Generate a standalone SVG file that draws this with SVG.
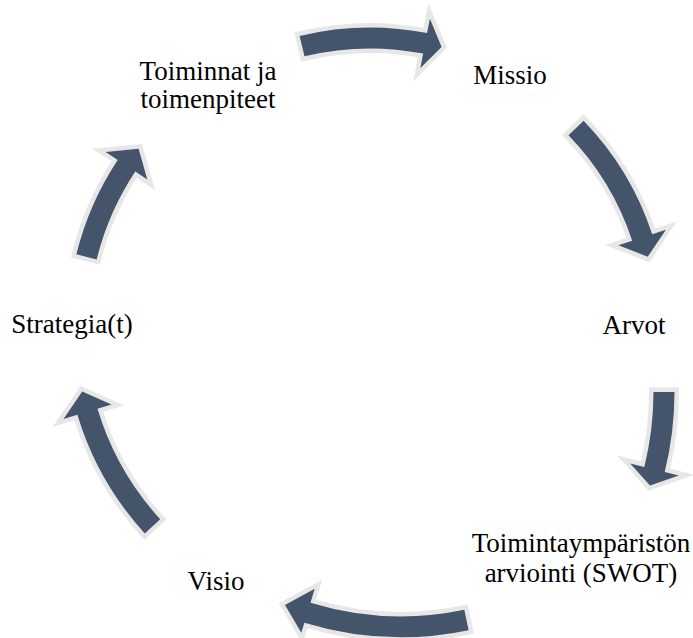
<svg xmlns="http://www.w3.org/2000/svg" width="693" height="638" viewBox="0 0 693 638">
  <style>
    .arrow { fill: #44546A; stroke: #E7E7E7; stroke-width: 9; stroke-linejoin: miter; stroke-miterlimit: 10; paint-order: stroke; }
    .label { font-family: 'Liberation Serif', 'Times New Roman', serif; font-size: 27px; fill: #000000; text-anchor: middle; }
  </style>
  <rect width="693" height="638" fill="#FFFFFF"/>

  <!-- curved block arrows between the steps of the cycle -->
  <g id="connectors">
    <path class="arrow" d="M 299.6,35.9 A 299.5,299.5 0 0 1 427.1,33.0 L 429.9,18.8 L 441.6,47.0 L 420.4,67.9 L 423.1,53.6 A 278.5,278.5 0 0 0 304.5,56.3 Z"/>
    <path class="arrow" d="M 583.6,120.7 A 297,297 0 0 1 652.2,234.2 L 665.9,229.7 L 647.7,256.7 L 618.4,245.3 L 632.2,240.8 A 276,276 0 0 0 568.5,135.3 Z"/>
    <path class="arrow" d="M 674.5,392 A 330.5,330.5 0 0 1 664.7,471.9 L 678.8,475.5 L 650,485.6 L 630.2,463.4 L 644.3,466.9 A 309.5,309.5 0 0 0 653.5,392 Z"/>
    <path class="arrow" d="M 468.6,630.2 A 330.5,330.5 0 0 1 304.4,622.8 L 301.3,632.8 L 285,604.9 L 314.7,588.8 L 310.5,602.7 A 309.5,309.5 0 0 0 464.3,609.7 Z"/>
    <path class="arrow" d="M 144.8,533.4 A 305.5,305.5 0 0 1 77.4,414.8 L 63.5,419 L 82.2,391.6 L 111.4,404.6 L 97.5,408.8 A 284.5,284.5 0 0 0 160.2,519.2 Z"/>
    <path class="arrow" d="M 76.4,254.3 A 302.5,302.5 0 0 1 117.7,160 L 105.7,152 L 138.6,148.8 L 147.3,179.6 L 135.3,171.6 A 281.5,281.5 0 0 0 96.7,259.4 Z"/>
  </g>

  <g id="node-missio">
    <text class="label" x="510" y="84">Missio</text>
  </g>
  <g id="node-arvot">
    <text class="label" x="634" y="334">Arvot</text>
  </g>
  <g id="node-toimintaymparisto">
    <text class="label" x="581" y="552">Toimintaympäristön</text>
    <text class="label" x="581" y="582">arviointi (SWOT)</text>
  </g>
  <g id="node-visio">
    <text class="label" x="216" y="590">Visio</text>
  </g>
  <g id="node-strategia">
    <text class="label" x="72" y="333">Strategia(t)</text>
  </g>
  <g id="node-toiminnat">
    <text class="label" x="208" y="80">Toiminnat ja</text>
    <text class="label" x="208" y="108">toimenpiteet</text>
  </g>
</svg>
